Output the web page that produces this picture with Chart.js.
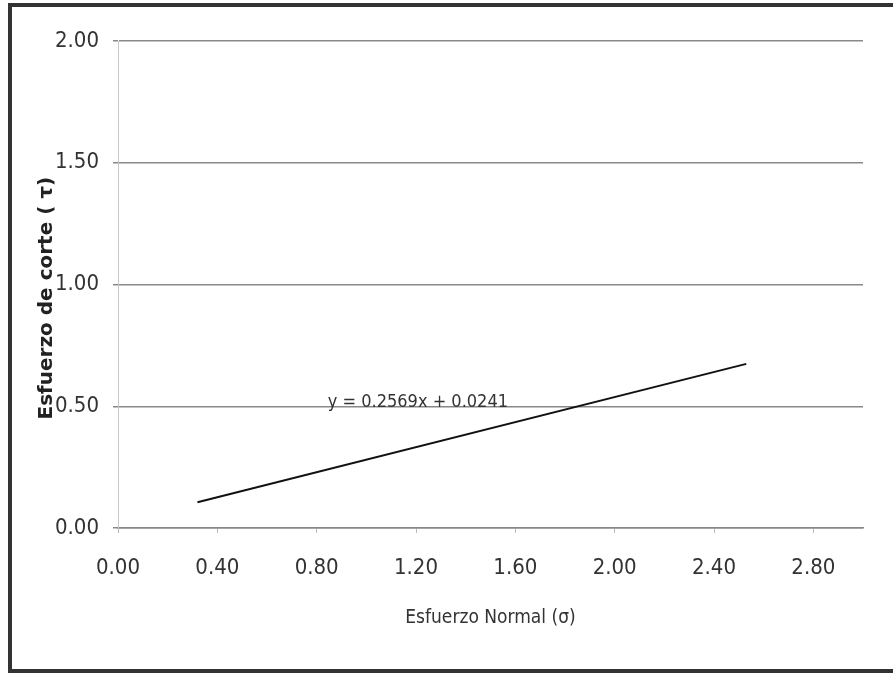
<!DOCTYPE html>
<html>
<head>
<meta charset="utf-8">
<script src="https://cdn.jsdelivr.net/npm/chart.js@4.4.1/dist/chart.umd.min.js"></script>
<style>
  html, body { margin: 0; padding: 0; background: #fff; }
  #wrap { position: relative; width: 893px; height: 673px; }
  #frame {
    position: absolute; left: 8px; top: 3px; width: 900px; height: 662px;
    border-left: 4px solid #333; border-top: 4px solid #333; border-bottom: 4px solid #333;
    pointer-events: none;
  }
</style>
</head>
<body>
<div id="wrap">
  <canvas id="chart" width="893" height="673"></canvas>
  <div id="frame"></div>
</div>
<script>
// ================= DATA =================
const normalStress = [0.32, 2.53];     // sigma (x)
const shearStress = [0.106, 0.674];    // tau (y), linea de tendencia
const xTicksMax = 3.0;
const yTicksMax = 2.0;
const equationText = "y = 0.2569x + 0.0241";
const equationAt = { x: 0.845, y: 0.5 };
const yTitleText = "Esfuerzo de corte ( τ)";

const narrow = "'Liberation Sans Narrow', 'DejaVu Sans Condensed', 'Open Sans', sans-serif";

// ================= LABELS =================
const extraLabels = {
  id: "extraLabels",
  afterDatasetsDraw(chart) {
    const { ctx, scales, chartArea } = chart;
    const px = scales.x.getPixelForValue(equationAt.x);
    const py = scales.y.getPixelForValue(equationAt.y);
    ctx.save();
    ctx.font = "18px " + narrow;
    ctx.fillStyle = "#333";
    ctx.textAlign = "left";
    ctx.textBaseline = "alphabetic";
    ctx.fillText(equationText, px, py + 1);
    ctx.restore();

    // titulo eje Y (un poco bajo el centro, como en el original)
    const cy = chartArea.top + (chartArea.bottom - chartArea.top) * 0.528;
    ctx.save();
    ctx.translate(47, cy);
    ctx.rotate(-Math.PI / 2);
    ctx.font = "bold 20px 'DejaVu Sans', Verdana, sans-serif";
    ctx.fillStyle = "#222";
    ctx.textAlign = "center";
    ctx.textBaseline = "middle";
    ctx.fillText(yTitleText, 0, 0);
    ctx.restore();
  },
};

const whiteBg = {
  id: "whiteBg",
  beforeDraw(chart) {
    const ctx = chart.ctx;
    ctx.save();
    ctx.fillStyle = "#fff";
    ctx.fillRect(0, 0, chart.width, chart.height);
    ctx.restore();
  },
};

new Chart(document.getElementById("chart"), {
  type: "scatter",
  data: {
    datasets: [
      {
        label: "Tendencia",
        data: normalStress.map((x, i) => ({ x: x, y: shearStress[i] })),
        showLine: true,
        borderColor: "#111",
        borderWidth: 2,
        pointRadius: 0,
        fill: false,
      },
    ],
  },
  options: {
    responsive: false,
    animation: false,
    layout: { padding: { top: 41, right: 30, bottom: 0, left: 0 } },
    plugins: { legend: { display: false }, tooltip: { enabled: false } },
    scales: {
      x: {
        type: "linear",
        min: 0,
        max: xTicksMax,
        afterFit: (s) => { s.height = 145; },
        ticks: {
          stepSize: 0.4,
          includeBounds: false,
          padding: 22,
          color: "#333",
          font: { family: narrow, size: 22 },
          callback: (v) => v.toFixed(2),
        },
        grid: {
          drawOnChartArea: false,
          drawTicks: true,
          tickLength: 5,
          color: "#bbb",
        },
        border: { color: "#888", width: 1.5 },
        title: {
          display: true,
          text: "Esfuerzo Normal (σ)",
          color: "#333",
          font: { family: narrow, size: 19 },
          padding: { top: 0, bottom: 44 },
        },
      },
      y: {
        min: 0,
        max: yTicksMax,
        afterFit: (s) => { s.width = 118; },
        ticks: {
          stepSize: 0.5,
          padding: 14,
          color: "#333",
          font: { family: narrow, size: 22 },
          callback: (v) => v.toFixed(2),
        },
        grid: {
          color: "#888",
          lineWidth: 1.5,
          tickLength: 5,
        },
        border: { color: "#c8c8c8", width: 1 },
      },
    },
  },
  plugins: [whiteBg, extraLabels],
});
</script>
</body>
</html>
